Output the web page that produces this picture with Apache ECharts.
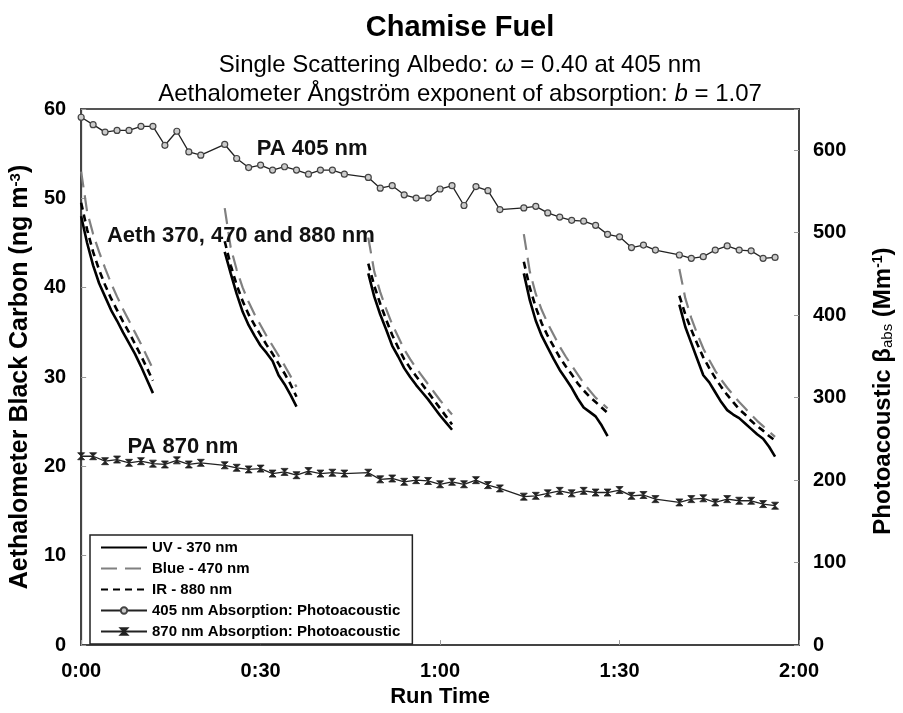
<!DOCTYPE html>
<html><head><meta charset="utf-8">
<script src="https://cdn.jsdelivr.net/npm/echarts@6/dist/echarts.min.js"></script>
<style>html,body{margin:0;padding:0;background:#fff}#c{width:903px;height:713px}</style>
</head><body><div id="c"></div>
<script>
// Photoacoustic sample times (minutes) shared by both PA series
const paTime = [0,2,4,6,8,10,12,14,16,18,20,24,26,28,30,32,34,36,38,40,42,44,48,50,52,54,56,58,60,62,64,66,68,70,74,76,78,80,82,84,86,88,90,92,94,96,100,102,104,106,108,110,112,114,116];
const pa405 = [640,631,622,624,624,629,629,606,623,598,594,607,590,579,582,576,580,576,571,576,576,571,567,554,557,546,542,542,553,557,533,556,551,528,530,532,524,519,515,514,509,498,495,482,485,479,473,469,471,479,484,479,478,469,470];
const pa870 = [229,229,223,225,221,223,220,219,224,219,221,218,215,213,214,208,210,206,211,208,209,208,209,201,202,198,200,199,195,198,195,200,194,190,180,181,184,187,184,187,185,185,188,181,182,177,173,177,178,173,177,175,175,171,169];

// Aethalometer: filter segments, start minute of each, then 1-minute values
const aethStart = [0, 24, 48, 74, 100];
const uvSegs = [
  [48,45,42.5,40.5,39,37.5,36.3,35,33.8,32.6,31.2,29.7,28.2],
  [44,41.6,39.3,37.3,35.8,34.6,33.5,32.7,31.8,30.2,29.2,28,26.7],
  [41.6,39,37,35.3,33.5,32.3,31,30,29.1,28.3,27.5,26.6,25.7,24.9,24.1],
  [41.6,38.6,36.3,34.6,33.3,32,30.8,29.8,28.8,27.6,26.6,26.1,25.6,24.6,23.4],
  [38.1,35.6,33.8,32,30.2,29.4,28.3,27.2,26.3,25.8,25.4,24.8,24.2,23.6,23.1,22.2,21.1]
];
const blueSegs = [
  [53,48.5,46,44,42.2,40.5,39,37.6,36.3,35,33.7,32.3,30.9],
  [48.9,44.5,42,40,38.4,37,35.8,34.6,33.5,32.4,31.3,30.1,28.9],
  [45.6,41.8,39.5,37.6,35.9,34.5,33.1,32,31,30.1,29.2,28.3,27.4,26.6,25.8],
  [46,41.8,39.3,37.5,36,34.7,33.4,32.3,31.3,30.3,29.3,28.5,27.7,27.1,26.5],
  [42.1,38.8,36.6,34.8,33.2,31.9,30.7,29.7,28.8,28,27.2,26.5,25.8,25.1,24.5,23.9,23.3]
];
const irSegs = [
  [49.5,46.5,44,42,40.3,38.8,37.5,36.2,35,33.7,32.4,31,29.6],
  [45.2,42.5,40.3,38.5,37,35.8,34.7,33.6,32.6,31.5,30.4,29.2,27.8],
  [42.7,40.2,38.2,36.4,34.7,33.3,32,31,30.1,29.2,28.3,27.4,26.5,25.6,24.7],
  [42.9,40,37.8,36,34.6,33.4,32.2,31.2,30.3,29.3,28.5,27.8,27.2,26.6,26],
  [39.1,37,35.3,33.7,32.2,31,29.9,28.9,28,27.2,26.4,25.8,25.1,24.5,24,23.4,22.9]
];
const xTicks = [0, 30, 60, 90, 120];

function segData(segs) {
  const out = [];
  segs.forEach((seg, k) => {
    seg.forEach((v, i) => out.push([aethStart[k] + i, v]));
    out.push([aethStart[k] + seg.length, '-']);
  });
  return out;
}
const zip = (ys) => paTime.map((t, i) => [t, ys[i]]);
const fmtTime = (v) => Math.floor(v / 60) + ':' + String(v % 60).padStart(2, '0');

const FONT = '"Liberation Sans", Arial, sans-serif';
const chart = echarts.init(document.getElementById('c'), null, {renderer: 'canvas'});
const lbl = (txt) => ({
  symbol: 'circle', symbolSize: 1, itemStyle: {color: 'rgba(0,0,0,0)'},
  label: {show: true, position: 'inside', formatter: txt, color: '#111', fontWeight: 'bold', fontSize: 22, fontFamily: FONT}
});

chart.setOption({
  animation: false,
  backgroundColor: '#fff',
  textStyle: {fontFamily: FONT, color: '#000'},
  title: [
    {text: 'Chamise Fuel', left: 455, top: 8, textAlign: 'center',
     textStyle: {fontSize: 29, fontWeight: 'bold', color: '#000', fontFamily: FONT}},
    {text: 'Single Scattering Albedo: {i|ω} = 0.40 at 405 nm', left: 455, top: 48, textAlign: 'center',
     textStyle: {fontSize: 24, fontWeight: 'normal', color: '#000', fontFamily: FONT,
       rich: {i: {fontSize: 24, fontStyle: 'italic', color: '#000', fontFamily: FONT}}}},
    {text: 'Aethalometer Ångström exponent of absorption: {i|b} = 1.07', left: 455, top: 77, textAlign: 'center',
     textStyle: {fontSize: 24, fontWeight: 'normal', color: '#000', fontFamily: FONT,
       rich: {i: {fontSize: 24, fontStyle: 'italic', color: '#000', fontFamily: FONT}}}}
  ],
  grid: {left: 78, right: 100, top: 109, bottom: 58, show: true, borderColor: '#555', borderWidth: 2, backgroundColor: 'transparent'},
  legend: {
    orient: 'vertical', left: 90, top: 535,
    data: [
      {name: 'UV - 370 nm', itemStyle: {opacity: 0}},
      {name: 'Blue - 470 nm', itemStyle: {opacity: 0}},
      {name: 'IR - 880 nm', itemStyle: {opacity: 0}},
      {name: '405 nm Absorption: Photoacoustic'},
      {name: '870 nm Absorption: Photoacoustic'}
    ],
    itemWidth: 46, itemHeight: 8, itemGap: 6,
    padding: [5, 12, 5, 10],
    borderColor: '#222', borderWidth: 1.5, backgroundColor: '#fff',
    textStyle: {fontSize: 15, fontWeight: 'bold', color: '#000', fontFamily: FONT}
  },
  xAxis: {
    type: 'value', min: 0, max: 120, interval: 30,
    name: 'Run Time', nameLocation: 'middle', nameGap: 38,
    nameTextStyle: {fontSize: 22, fontWeight: 'bold', color: '#000'},
    axisLine: {show: true, lineStyle: {color: '#444', width: 2}},
    axisTick: {inside: true, length: 5, lineStyle: {color: '#999'}},
    axisLabel: {formatter: fmtTime, fontSize: 20, fontWeight: 'bold', color: '#000', margin: 16,
      customValues: xTicks},
    splitLine: {show: false}
  },
  yAxis: [
    {type: 'value', min: 0, max: 60, interval: 10, position: 'left',
     name: 'Aethalometer Black Carbon (ng m{sup|-3})', nameLocation: 'middle', nameGap: 34, nameRotate: 90,
     nameTextStyle: {fontSize: 25, fontWeight: 'bold', color: '#000',
       rich: {sup: {fontSize: 15, fontWeight: 'bold', verticalAlign: 'top', color: '#000'}}},
     axisLine: {show: true, lineStyle: {color: '#444', width: 2}},
     axisTick: {inside: true, length: 5, lineStyle: {color: '#999'}},
     axisLabel: {fontSize: 20, fontWeight: 'bold', color: '#000', margin: 15},
     splitLine: {show: false}},
    {type: 'value', min: 0, max: 650, interval: 100, position: 'right',
     name: 'Photoacoustic β{sub|abs} (Mm{sup|-1})', nameLocation: 'middle', nameGap: 72, nameRotate: 90,
     nameTextStyle: {fontSize: 24, fontWeight: 'bold', color: '#000', padding: [0, 28, 0, 0],
       rich: {sub: {fontSize: 15, fontWeight: 'normal', verticalAlign: 'bottom', color: '#000'},
              sup: {fontSize: 14, fontWeight: 'bold', verticalAlign: 'top', color: '#000'}}},
     axisLine: {show: true, lineStyle: {color: '#444', width: 2}},
     axisTick: {inside: true, length: 5, lineStyle: {color: '#999'}},
     axisLabel: {fontSize: 20, fontWeight: 'bold', color: '#000', margin: 14,
       formatter: (v) => (v % 100 === 0 ? String(v) : '')},
     splitLine: {show: false}}
  ],
  series: [
    {name: 'Blue - 470 nm', type: 'line', yAxisIndex: 0, data: segData(blueSegs), showSymbol: false, symbol: 'none',
     connectNulls: false, color: '#808080', lineStyle: {color: '#808080', width: 2.2, type: [16, 8]}, z: 2},
    {name: 'IR - 880 nm', type: 'line', yAxisIndex: 0, data: segData(irSegs), showSymbol: false, symbol: 'none',
     connectNulls: false, color: '#000', lineStyle: {color: '#000', width: 2.6, type: [7, 5]}, z: 3},
    {name: 'UV - 370 nm', type: 'line', yAxisIndex: 0, data: segData(uvSegs), showSymbol: false, symbol: 'none',
     connectNulls: false, color: '#000', lineStyle: {color: '#000', width: 2.6}, z: 4,
     markPoint: {data: [Object.assign({coord: [26.7, 45.8]}, lbl('Aeth 370, 470 and 880 nm'))]}},
    {name: '405 nm Absorption: Photoacoustic', type: 'line', yAxisIndex: 1, data: zip(pa405),
     symbol: 'circle', symbolSize: 6, color: '#333',
     itemStyle: {color: '#ccc', borderColor: '#444', borderWidth: 1.2},
     lineStyle: {color: '#222', width: 1.3}, z: 5,
     markPoint: {data: [Object.assign({coord: [38.6, 601]}, lbl('PA 405 nm'))]}},
    {name: '870 nm Absorption: Photoacoustic', type: 'line', yAxisIndex: 1, data: zip(pa870),
     symbol: 'path://M0,0 L10,0 L0,10 L10,10 Z', symbolSize: [7, 7], color: '#222',
     itemStyle: {color: '#222', borderColor: '#222', borderWidth: 0.8},
     lineStyle: {color: '#222', width: 1.3}, z: 5,
     markPoint: {data: [Object.assign({coord: [17, 240]}, lbl('PA 870 nm'))]}}
  ]
});
</script></body></html>
